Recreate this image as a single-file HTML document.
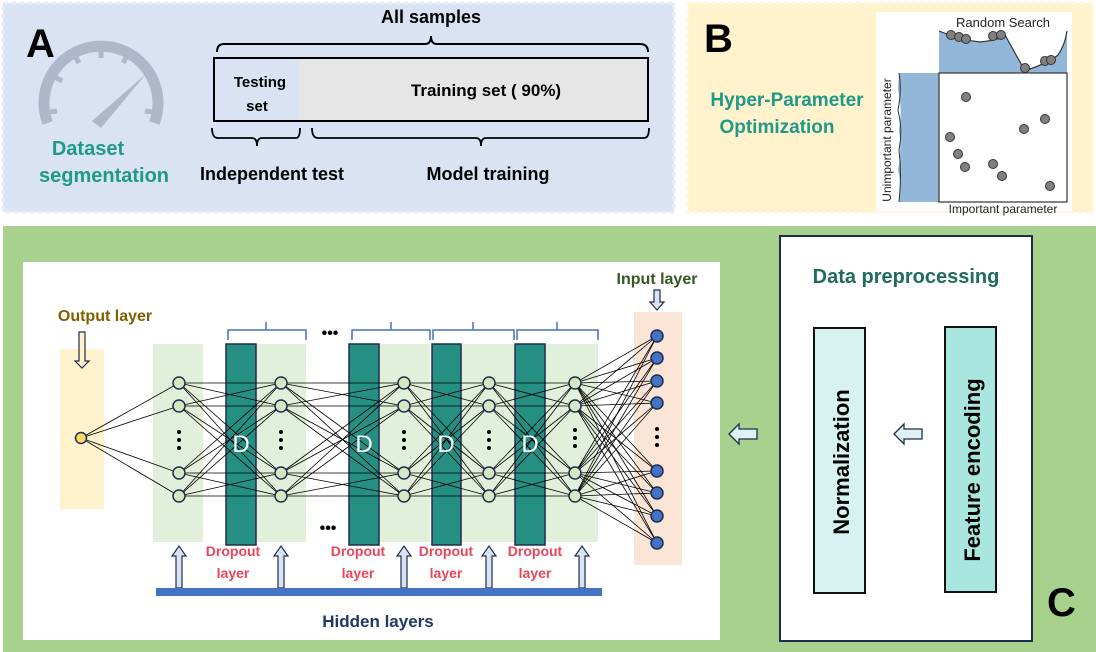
<!DOCTYPE html>
<html><head><meta charset="utf-8"><style>
html,body{margin:0;padding:0;background:#fff;}
svg{display:block;font-family:"Liberation Sans",sans-serif;}
</style></head><body>
<svg id="s" width="1096" height="652" viewBox="0 0 1096 652" xmlns="http://www.w3.org/2000/svg">
<!-- Panel A -->
<rect x="3" y="3" width="671" height="209" fill="#dae3f3" stroke="#e8eef8" stroke-width="3" stroke-dasharray="5 3"/>
<text x="26" y="57" font-size="40" font-weight="bold" fill="#000">A</text>
<path d="M47.6 123 A57 57 0 1 1 154.4 123" fill="none" stroke="#adb9ca" stroke-width="11"/>
<path d="M92 121 L101 128 L146 74 Z" fill="#adb9ca"/>
<g stroke="#adb9ca" stroke-width="5" transform="translate(101,103)">
<line x1="-44" y1="8" x2="-52" y2="9"/><line x1="-39" y1="-22" x2="-46" y2="-26"/><line x1="-22" y1="-40" x2="-26" y2="-47"/><line x1="0" y1="-45" x2="0" y2="-53"/><line x1="22" y1="-40" x2="26" y2="-47"/><line x1="44" y1="8" x2="52" y2="9"/>
</g>
<text x="88" y="155" font-size="20" font-weight="bold" fill="#1f9a8a" text-anchor="middle">Dataset</text>
<text x="104" y="182" font-size="20" font-weight="bold" fill="#1f9a8a" text-anchor="middle">segmentation</text>
<text x="431" y="23" font-size="18" font-weight="bold" text-anchor="middle">All samples</text>
<path d="M217 52 Q217 44 224 44 L425 44 Q431 44 431 36 Q431 44 437 44 L640 44 Q648 44 648 52" fill="none" stroke="#000" stroke-width="2"/>
<rect x="214" y="58" width="434" height="63" fill="#e6e6e6" stroke="#000" stroke-width="2"/>
<rect x="215" y="59" width="84" height="61" fill="#dae3f3"/>
<text x="260" y="87" font-size="15" font-weight="bold" text-anchor="middle">Testing</text>
<text x="257" y="111" font-size="15" font-weight="bold" text-anchor="middle">set</text>
<text x="486" y="96" font-size="17" font-weight="bold" text-anchor="middle">Training set ( 90%)</text>
<path d="M212 128 Q212 138 218 138 L252 138 Q257 138 257 146 Q257 138 262 138 L296 138 Q300 138 300 128" fill="none" stroke="#000" stroke-width="1.8"/>
<path d="M312 128 Q312 138 318 138 L476 138 Q481 138 481 146 Q481 138 486 138 L644 138 Q649 138 649 128" fill="none" stroke="#000" stroke-width="1.8"/>
<text x="272" y="180" font-size="18" font-weight="bold" text-anchor="middle">Independent test</text>
<text x="488" y="180" font-size="18" font-weight="bold" text-anchor="middle">Model training</text>
<!-- Panel B -->
<rect x="688" y="3" width="405" height="209" fill="#fff2cc" stroke="#fdf6e0" stroke-width="3" stroke-dasharray="5 3"/>
<text x="704" y="52" font-size="40" font-weight="bold" fill="#000">B</text>
<text x="787" y="106" font-size="19" font-weight="bold" fill="#1f9a8a" text-anchor="middle">Hyper-Parameter</text>
<text x="777" y="133" font-size="19" font-weight="bold" fill="#1f9a8a" text-anchor="middle">Optimization</text>
<rect x="876" y="12" width="196" height="199" fill="#fff"/>
<path d="M939 31 Q960 40 980 42 Q1000 40 1005 35 L1020 62 Q1025 72 1030 69 Q1050 62 1058 55 Q1065 45 1067 31 L1067 73 L939 73 Z" fill="#93b7d8"/>
<path d="M939 31 Q960 40 980 42 Q1000 40 1005 35 L1020 62 Q1025 72 1030 69 Q1050 62 1058 55 Q1065 45 1067 31" fill="none" stroke="#333" stroke-width="1.2"/>
<path d="M899 73 L939 73 L939 202 L899 202 Q902 185 898 170 Q902 150 899 130 Q903 110 898 90 Z" fill="#93b7d8"/>
<path d="M899 73 Q902 90 898 110 Q903 130 899 150 Q902 175 899 202" fill="none" stroke="#333" stroke-width="1"/>
<rect x="939" y="73" width="128" height="129" fill="#fff" stroke="#333" stroke-width="1.2"/>
<text x="1003" y="27" font-size="13" text-anchor="middle" fill="#222">Random Search</text>
<text x="1003" y="213" font-size="12" text-anchor="middle" fill="#222">Important parameter</text>
<text transform="translate(891,140) rotate(-90)" font-size="12" text-anchor="middle" fill="#222">Unimportant parameter</text>
<g fill="#808080" stroke="#333" stroke-width="1">
<circle cx="951" cy="35" r="4.5"/><circle cx="959" cy="37" r="4.5"/><circle cx="966" cy="39" r="4.5"/><circle cx="993" cy="36" r="4.5"/><circle cx="1001" cy="35" r="4.5"/><circle cx="1025" cy="68" r="4.5"/><circle cx="1045" cy="61" r="4.5"/><circle cx="1051" cy="60" r="4.5"/>
<circle cx="966" cy="97" r="4.5"/><circle cx="1045" cy="119" r="4.5"/><circle cx="1024" cy="129" r="4.5"/><circle cx="950" cy="137" r="4.5"/><circle cx="958" cy="154" r="4.5"/><circle cx="965" cy="167" r="4.5"/><circle cx="993" cy="164" r="4.5"/><circle cx="1002" cy="176" r="4.5"/><circle cx="1050" cy="186" r="4.5"/>
</g>
<!-- Panel C -->
<rect x="3" y="226" width="1093" height="426" fill="#a9d18e"/>
<rect x="23" y="262" width="697" height="378" fill="#fff"/>
<rect x="780" y="236" width="252" height="405" fill="#fff" stroke="#1f2d4d" stroke-width="2"/>
<text x="906" y="283" font-size="20" font-weight="bold" fill="#1f6b5e" text-anchor="middle">Data preprocessing</text>
<rect x="814" y="328" width="51" height="265" fill="#d6f3f1" stroke="#111" stroke-width="2"/>
<rect x="945" y="327" width="51" height="265" fill="#a8e6df" stroke="#111" stroke-width="2"/>
<text transform="translate(849,462) rotate(-90)" font-size="22" font-weight="bold" text-anchor="middle">Normalization</text>
<text transform="translate(980,470) rotate(-90)" font-size="22" font-weight="bold" text-anchor="middle">Feature encoding</text>
<path d="M894 434 L904 424 L904 429 L922 429 L922 439 L904 439 L904 444 Z" fill="#dff2f2" stroke="#1f2d4d" stroke-width="1.3"/>
<path d="M729 434 L739 424 L739 429 L757 429 L757 439 L739 439 L739 444 Z" fill="#dff2f2" stroke="#1f2d4d" stroke-width="1.3"/>
<text x="1047" y="616" font-size="40" font-weight="bold">C</text>
<!-- network backgrounds -->
<rect x="60" y="349" width="44" height="160" fill="#fff2cc"/>
<rect x="634" y="312" width="48" height="253" fill="#fbe5d6"/>
<g fill="#e2efda">
<rect x="153" y="344" width="50" height="198"/><rect x="256" y="344" width="50" height="198"/><rect x="379" y="344" width="51" height="198"/><rect x="461" y="344" width="53" height="198"/><rect x="545" y="344" width="53" height="198"/>
</g>
<g fill="#268f84" stroke="#1f2d4d" stroke-width="1.5">
<rect x="226" y="344" width="30" height="201"/><rect x="349" y="344" width="30" height="201"/><rect x="432" y="344" width="29" height="201"/><rect x="515" y="344" width="30" height="201"/>
</g>
<g id="lines" stroke="#000" stroke-width="0.8"></g>
<g id="nodes"></g>
<g font-size="24" fill="#fff" text-anchor="middle">
<text x="241" y="452">D</text><text x="364" y="452">D</text><text x="446" y="452">D</text><text x="530" y="452">D</text>
</g>
<g fill="#000">
<circle cx="179" cy="432" r="2"/><circle cx="179" cy="440" r="2"/><circle cx="179" cy="448" r="2"/>
<circle cx="281" cy="432" r="2"/><circle cx="281" cy="440" r="2"/><circle cx="281" cy="448" r="2"/>
<circle cx="404" cy="432" r="2"/><circle cx="404" cy="440" r="2"/><circle cx="404" cy="448" r="2"/>
<circle cx="489" cy="432" r="2"/><circle cx="489" cy="440" r="2"/><circle cx="489" cy="448" r="2"/>
<circle cx="575" cy="430" r="2"/><circle cx="575" cy="438" r="2"/><circle cx="575" cy="446" r="2"/>
<circle cx="657" cy="429" r="2"/><circle cx="657" cy="437" r="2"/><circle cx="657" cy="445" r="2"/>
</g>
<text x="330" y="338" font-size="16" font-weight="bold" text-anchor="middle">•••</text>
<text x="328" y="533" font-size="16" font-weight="bold" text-anchor="middle">•••</text>
<g fill="none" stroke="#4472c4" stroke-width="1.5">
<path d="M228 340 L228 330 L266 330 L266 322 L266 330 L306 330 L306 340"/>
<path d="M352 340 L352 330 L391 330 L391 322 L391 330 L430 330 L430 340"/>
<path d="M433 340 L433 330 L473 330 L473 322 L473 330 L514 330 L514 340"/>
<path d="M517 340 L517 330 L557 330 L557 322 L557 330 L598 330 L598 340"/>
</g>
<text x="105" y="321" font-size="16" font-weight="bold" fill="#7f6000" text-anchor="middle">Output layer</text>
<text x="657" y="284" font-size="16" font-weight="bold" fill="#375623" text-anchor="middle">Input layer</text>
<path d="M79 332 L85 332 L85 361 L89 361 L82 368 L75 361 L79 361 Z" fill="#fff2cc" stroke="#1f2d4d" stroke-width="1.2"/>
<path d="M654 290 L660 290 L660 302 L664 302 L657 310 L650 302 L654 302 Z" fill="#dae3f3" stroke="#1f2d4d" stroke-width="1.2"/>
<g id="ups" fill="#dae3f3" stroke="#1f2d4d" stroke-width="1.2"></g>
<rect x="156" y="588" width="446" height="8" fill="#4472c4"/>
<g font-size="14" font-weight="bold" fill="#e9455b" text-anchor="middle">
<text x="233" y="556">Dropout</text><text x="233" y="578">layer</text>
<text x="358" y="556">Dropout</text><text x="358" y="578">layer</text>
<text x="446" y="556">Dropout</text><text x="446" y="578">layer</text>
<text x="535" y="556">Dropout</text><text x="535" y="578">layer</text>
</g>
<text x="378" y="627" font-size="17" font-weight="bold" fill="#1f3864" text-anchor="middle">Hidden layers</text>
</svg>
<script>
var NS="http://www.w3.org/2000/svg";
function el(p,t,a){var e=document.createElementNS(NS,t);for(var k in a)e.setAttribute(k,a[k]);document.getElementById(p).appendChild(e);}
var hy=[383,406,473,496];
var cols=[179,281,404,489,575];
var iy=[336,358,381,403,471,493,516,543];
hy.forEach(function(y){el("lines","line",{x1:81,y1:438,x2:179,y2:y});});
for(var c=0;c<4;c++)hy.forEach(function(a){hy.forEach(function(b){el("lines","line",{x1:cols[c],y1:a,x2:cols[c+1],y2:b});});});
hy.forEach(function(a){iy.forEach(function(b){el("lines","line",{x1:575,y1:a,x2:657,y2:b});});});
el("nodes","circle",{cx:81,cy:438,r:5.5,fill:"#ffd966",stroke:"#1f2d4d","stroke-width":1.5});
cols.forEach(function(x){hy.forEach(function(y){el("nodes","circle",{cx:x,cy:y,r:6,fill:"#d5e8c4",stroke:"#1f2d4d","stroke-width":1.5});});});
iy.forEach(function(y){el("nodes","circle",{cx:657,cy:y,r:6,fill:"#4472c4",stroke:"#1f2d4d","stroke-width":1.5});});
[179,281,404,489,582].forEach(function(x){el("ups","path",{d:"M"+(x-3)+" 588 L"+(x-3)+" 556 L"+(x-7)+" 556 L"+x+" 546 L"+(x+7)+" 556 L"+(x+3)+" 556 L"+(x+3)+" 588 Z"});});
</script>
</body></html>
